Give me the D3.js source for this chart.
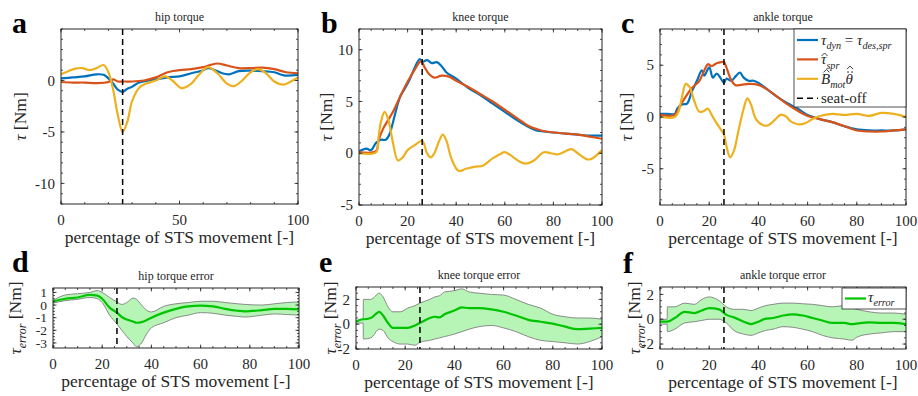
<!DOCTYPE html>
<html>
<head>
<meta charset="utf-8">
<script src="https://cdn.jsdelivr.net/npm/d3@7"></script>
<style>
  body { margin: 0; background: #fff; }
</style>
</head>
<body>
<script>
// ---- data: [percentage of STS movement, torque in Nm] ----
const seatOff = 26;

const hipDyn = [[0,0.2],[5,0.3],[10,0.4],[15,0.6],[18,0.55],[20,0.2],[22,-0.3],[24,-0.9],[26,-1.1],[28,-0.8],[30,-0.6],[33,-0.2],[37,0],[40,0.1],[45,0.3],[50,0.4],[55,0.7],[60,1.0],[62,1.2],[65,1.0],[68,0.7],[71,0.6],[75,0.9],[80,0.95],[85,0.9],[90,0.8],[94,0.5],[100,0.55]];
const hipSpr = [[0,-0.15],[5,-0.2],[10,-0.2],[15,-0.25],[20,-0.15],[22,0.1],[24,-0.1],[27,-0.1],[30,-0.1],[35,0],[40,0.3],[45,0.8],[50,1.0],[55,1.1],[60,1.3],[63,1.5],[66,1.65],[70,1.45],[75,1.2],[80,1.2],[85,1.25],[90,1.1],[95,0.8],[100,0.7]];
const hipMot = [[0,0.6],[3,0.9],[6,1.15],[9,1.2],[12,1.0],[15,1.2],[18,1.5],[20,0.8],[22,-0.9],[24,-3.4],[26,-5],[28,-4],[30,-2],[33,-0.7],[36,-0.3],[40,0],[44,0.4],[47,0],[51,-0.75],[55,-0.3],[58,0.5],[62,1.3],[66,0.7],[70,-0.3],[73,-0.55],[76,-0.1],[80,0.8],[83,1.1],[86,0.8],[90,-0.1],[94,-0.4],[97,-0.1],[100,0.3]];

const kneeDyn = [[0,0.2],[3,0.45],[5,0.3],[7,1.0],[9,1.3],[11,1.3],[12.5,1.8],[14,3],[16,4.8],[17,5.5],[19,6.3],[21,7.2],[23,8.3],[25,9.1],[26,8.8],[28,9.0],[30,8.7],[32,8.8],[34,8.4],[36,7.8],[40,7.2],[45,6.3],[50,5.6],[55,4.8],[60,4.0],[65,3.2],[70,2.5],[73,2.2],[76,2.1],[80,2.0],[85,1.9],[90,1.8],[95,1.7],[100,1.7]];
const kneeSpr = [[0,0.1],[7,0.2],[8,1.2],[10,2.4],[14,4],[17,5.5],[20,6.9],[23,8.1],[25.5,8.9],[27,8.3],[29,7.6],[31,7.3],[34,7.5],[37,7.4],[40,7.0],[45,6.4],[50,5.7],[55,5.0],[60,4.2],[65,3.4],[70,2.6],[75,2.2],[80,2.0],[85,1.9],[90,1.8],[95,1.6],[100,1.4]];
const kneeMot = [[0,0],[7,0.1],[8,1.5],[9,3.0],[10.5,4.0],[12,3.3],[14,1.0],[16,-0.7],[18,-0.4],[20,0.3],[23,0.8],[26,1.2],[28,0],[29.5,-0.4],[31,0],[33,1.2],[34.5,1.8],[36,1.2],[38,-0.5],[41,-1.7],[44,-1.5],[48,-1.3],[51,-1.2],[55,-0.5],[58,-0.1],[60,0.1],[63,-0.3],[66,-0.8],[68.5,-1.0],[72,-0.7],[76,0.1],[79,0],[82,-0.1],[85,0.2],[87.5,0.4],[90,0],[94,-0.6],[96,-0.5],[100,0.3]];

const ankleDyn = [[0,0.3],[3,0.3],[6,0.3],[7,0.8],[9,1.2],[11,1.3],[13,2.5],[15,3.5],[17,4.5],[18,4.0],[20,4.8],[21.5,3.8],[23,4.2],[24.5,3.8],[26,3.3],[27,3.7],[29,3.5],[31,4.0],[32.5,4.3],[34,3.8],[36,3.5],[38,3.5],[40,3.3],[44,2.6],[48,1.9],[52,1.3],[56,0.8],[60,0.2],[65,-0.2],[70,-0.5],[75,-0.9],[80,-1.2],[85,-1.3],[90,-1.3],[95,-1.3],[100,-1.2]];
const ankleSpr = [[0,0.2],[6,0.2],[8,1.0],[10,1.8],[13,2.8],[16,3.5],[18,4.5],[19.5,5.1],[21,4.9],[23,5.2],[25,5.3],[26,5.3],[27,4.8],[28.5,3.8],[30.5,3.1],[33,3.1],[36,3.2],[40,3.1],[44,2.6],[48,1.9],[52,1.2],[56,0.6],[60,0.1],[65,-0.2],[70,-0.5],[75,-0.9],[80,-1.3],[85,-1.4],[90,-1.4],[95,-1.3],[100,-1.2]];
const ankleMot = [[0,0],[6,0],[7.5,0.5],[9,2.0],[10.5,3.2],[12,2.9],[14,1.5],[16,0.5],[18,0.6],[19.5,0.8],[21,0.2],[23,-0.6],[25,-1.3],[26,-1.7],[27,-2.8],[28.5,-3.9],[30,-3.3],[32,-1.2],[34,0.8],[35.5,1.8],[37,1.2],[39,-0.2],[42,-0.8],[44,-0.8],[47,-0.2],[49,0.2],[51,0.1],[53,-0.4],[56,-0.7],[59,-0.6],[62,-0.2],[65,0.1],[70,0.3],[75,0.2],[80,0.3],[85,0.1],[90,0.4],[95,0.3],[100,0]];

// error rows: [x, lower, mean, upper]
const hipErr = [[0,0.15,0.3,0.35],[5,0.35,0.5,0.8],[10,0.45,0.6,0.9],[15,0.6,0.8,1.0],[18,0.5,0.75,1.15],[20,0.2,0.5,1.0],[23,-0.8,-0.2,0.6],[26,-1.5,-0.6,0.25],[28,-2.0,-0.95,0.05],[30,-2.5,-1.15,0.2],[32.5,-3.0,-1.3,0.55],[34,-3.3,-1.4,0.45],[36,-3.0,-1.35,0.0],[38,-2.3,-1.2,-0.4],[40,-1.8,-1.0,-0.55],[45,-1.4,-0.6,-0.1],[50,-1.0,-0.3,0.1],[55,-0.8,-0.1,0.2],[60,-0.6,-0.05,0.3],[65,-0.65,-0.1,0.3],[70,-0.8,-0.3,0.2],[75,-0.9,-0.45,0.1],[78,-0.95,-0.5,0.05],[85,-0.8,-0.4,0.0],[90,-0.7,-0.3,0.1],[95,-0.75,-0.3,0.2],[100,-0.8,-0.35,0.25]];
const kneeErr = [[0,0.1,0.2,0.3],[2.9,0.1,0.4,0.45],[3,-1.2,0.4,2.0],[6,-1.1,0.5,2.0],[9.5,-0.4,1.0,2.5],[11,-0.5,0.7,2.2],[13,-1.1,0.1,1.4],[15,-1.4,-0.3,1.0],[18,-1.6,-0.3,1.0],[21,-1.6,-0.3,1.3],[24,-1.7,-0.1,1.5],[26,-1.45,0.1,1.7],[30,-1.3,0.5,2.0],[32,-1.2,0.6,2.2],[34,-1.1,0.55,2.3],[36,-1.0,0.8,2.6],[40,-0.8,1.1,2.7],[43,-0.6,1.35,2.85],[46,-0.4,1.3,2.6],[50,-0.2,1.3,2.5],[55,-0.1,1.2,2.4],[60,-0.3,1.0,2.35],[65,-0.6,0.7,2.0],[70,-1.0,0.35,1.6],[75,-1.3,0.2,1.3],[80,-1.4,0.05,0.8],[85,-1.5,-0.2,0.6],[90,-1.6,-0.4,0.5],[95,-1.4,-0.35,0.5],[100,-1.0,-0.3,0.4]];
const ankleErr = [[0,-0.4,-0.2,0.0],[2.9,-0.4,-0.2,0.0],[3,-1.0,-0.2,1.0],[6,-0.8,0.1,1.0],[10,-0.3,0.6,1.3],[14,-0.2,0.5,1.2],[17,-0.1,0.7,1.6],[20,0.0,0.9,1.8],[24,0.0,0.8,1.5],[27,-0.3,0.35,1.0],[30,-0.9,0.15,0.8],[34,-1.2,-0.2,0.8],[37,-1.3,-0.4,0.7],[40,-1.1,-0.2,0.9],[43,-0.9,0.05,1.1],[46,-0.8,0.1,1.2],[50,-0.6,0.3,1.3],[54,-0.65,0.4,1.3],[58,-0.8,0.3,1.25],[62,-1.0,0.1,1.2],[66,-1.3,-0.1,1.1],[70,-1.5,-0.3,1.0],[75,-1.6,-0.3,1.1],[78,-1.7,-0.4,0.9],[80,-1.45,-0.35,0.8],[85,-1.2,-0.25,0.6],[90,-1.1,-0.3,0.5],[95,-1.0,-0.3,0.5],[100,-1.0,-0.4,0.4]];

// ---- styles ----
const C = { blue: '#0072BD', red: '#D95319', yel: '#EDB120', green: '#00c400', band: '#b6f5b6', edge: '#7f7f7f', axis: '#262626' };
const FONT = 'Liberation Serif';
const FS = 15;

const panels = [
  { letter: 'a', title: 'hip torque', box: [61, 298, 29, 204], ylim: [-12, 5], xt: [0, 50, 100], xm: 10, yt: [-10, -5, 0], ym: 1, lines: [hipDyn, hipSpr, hipMot], ylx: 26, lx: 12, ly: 33 },
  { letter: 'b', title: 'knee torque', box: [359, 602, 29, 205], ylim: [-5, 12], xt: [0, 20, 40, 60, 80, 100], xm: 5, yt: [-5, 0, 5, 10], ym: 1, lines: [kneeDyn, kneeSpr, kneeMot], ylx: 332, lx: 321, ly: 33 },
  { letter: 'c', title: 'ankle torque', box: [660, 906, 29, 205], ylim: [-8.5, 8.5], xt: [0, 20, 40, 60, 80, 100], xm: 5, yt: [-5, 0, 5], ym: 1, lines: [ankleDyn, ankleSpr, ankleMot], ylx: 632, lx: 621, ly: 33, legend: true },
  { letter: 'd', title: 'hip torque error', box: [53, 299, 288, 348], ylim: [-3.4, 1.35], xt: [0, 20, 40, 60, 80, 100], xm: 5, yt: [-3, -2, -1, 0, 1], ym: 0.25, err: hipErr, ylx: 21, lx: 12, ly: 272, yfs: 13.5 },
  { letter: 'e', title: 'knee torque error', box: [356, 602, 287, 349], ylim: [-2, 3], xt: [0, 20, 40, 60, 80, 100], xm: 5, yt: [-2, 0, 2], ym: 0.5, err: kneeErr, ylx: 336, lx: 319, ly: 272 },
  { letter: 'f', title: 'ankle torque error', box: [660, 906, 287, 349], ylim: [-2.4, 2.6], xt: [0, 20, 40, 60, 80, 100], xm: 5, yt: [-2, 0, 2], ym: 0.5, err: ankleErr, ylx: 640, lx: 623, ly: 273, legend: true }
];

const svg = d3.select('body').append('svg')
  .attr('width', 918).attr('height', 396)
  .style('font-family', FONT);

// append text made of parts: {t, i (italic), sub (subscript)}
function rich(textSel, parts, size) {
  const shift = size * 0.28;
  let down = false;
  parts.forEach(p => {
    const ts = textSel.append('tspan').text(p.t);
    if (p.i) ts.attr('font-style', 'italic');
    if (p.sub) {
      ts.attr('font-size', size * 0.68);
      if (!down) { ts.attr('dy', shift); down = true; }
    } else if (down) {
      ts.attr('dy', -shift); down = false;
    }
  });
  return textSel;
}

// draw a hat (and optional double dot) above character idx of a text element
function accent(g, textSel, idx, baseY, topEm, size, dots) {
  const ext = textSel.node().getExtentOfChar(idx);
  const cx = ext.x + ext.width / 2 + size * 0.06;
  let top = baseY - topEm * size - 1.5;
  if (dots) {
    [-2, 2].forEach(dx => g.append('circle').attr('cx', cx + dx).attr('cy', top).attr('r', 0.8).attr('fill', C.axis));
    top -= 3;
  }
  g.append('path').attr('d', `M${cx - 3},${top} L${cx},${top - 3} L${cx + 3},${top}`)
    .attr('fill', 'none').attr('stroke', C.axis).attr('stroke-width', 0.9);
}

function range(lo, hi, step) {
  const out = [];
  const n0 = Math.ceil(lo / step - 1e-9), n1 = Math.floor(hi / step + 1e-9);
  for (let n = n0; n <= n1; n++) out.push(+(n * step).toFixed(6));
  return out;
}

panels.forEach((p, pi) => {
  const [x0, x1, y0, y1] = p.box;
  const x = d3.scaleLinear().domain([0, 100]).range([x0, x1]);
  const y = d3.scaleLinear().domain(p.ylim).range([y1, y0]);
  const g = svg.append('g').attr('fill', C.axis);

  const clipId = 'clip' + pi;
  svg.append('clipPath').attr('id', clipId)
    .append('rect').attr('x', x0).attr('y', y0).attr('width', x1 - x0).attr('height', y1 - y0);
  const plot = g.append('g').attr('clip-path', `url(#${clipId})`);

  if (p.lines) {
    const line = d3.line().x(d => x(d[0])).y(d => y(d[1])).curve(d3.curveCatmullRom.alpha(0.5));
    [C.blue, C.red, C.yel].forEach((col, k) => {
      plot.append('path').datum(p.lines[k]).attr('d', line)
        .attr('fill', 'none').attr('stroke', col).attr('stroke-width', 2.2)
        .attr('stroke-linejoin', 'round');
    });
  } else {
    const area = d3.area().x(d => x(d[0])).y0(d => y(d[1])).y1(d => y(d[3])).curve(d3.curveMonotoneX);
    plot.append('path').datum(p.err).attr('d', area).attr('fill', C.band);
    [1, 3].forEach(k => {
      plot.append('path').datum(p.err)
        .attr('d', d3.line().x(d => x(d[0])).y(d => y(d[k])).curve(d3.curveMonotoneX))
        .attr('fill', 'none').attr('stroke', C.edge).attr('stroke-width', 0.9);
    });
    plot.append('path').datum(p.err)
      .attr('d', d3.line().x(d => x(d[0])).y(d => y(d[2])).curve(d3.curveMonotoneX))
      .attr('fill', 'none').attr('stroke', C.green).attr('stroke-width', 2.2);
  }

  // seat-off line
  plot.append('line').attr('x1', x(seatOff)).attr('x2', x(seatOff)).attr('y1', y0).attr('y2', y1)
    .attr('stroke', '#000').attr('stroke-width', 1.5).attr('stroke-dasharray', '6,4');

  // ticks (inward on all four sides)
  const tk = g.append('g').attr('stroke', C.axis).attr('stroke-width', 0.8);
  const xMinor = range(0, 100, p.xm), yMinor = range(p.ylim[0], p.ylim[1], p.ym);
  const tick = (xs, ys, len) => {
    xs.forEach(v => {
      tk.append('line').attr('x1', x(v)).attr('x2', x(v)).attr('y1', y1).attr('y2', y1 - len);
      tk.append('line').attr('x1', x(v)).attr('x2', x(v)).attr('y1', y0).attr('y2', y0 + len);
    });
    ys.forEach(v => {
      tk.append('line').attr('y1', y(v)).attr('y2', y(v)).attr('x1', x0).attr('x2', x0 + len);
      tk.append('line').attr('y1', y(v)).attr('y2', y(v)).attr('x1', x1).attr('x2', x1 - len);
    });
  };
  tick(xMinor, yMinor, 2);
  tick(p.xt, p.yt, 3.5);
  g.append('rect').attr('x', x0).attr('y', y0).attr('width', x1 - x0).attr('height', y1 - y0)
    .attr('fill', 'none').attr('stroke', C.axis).attr('stroke-width', 1);

  // tick labels
  p.xt.forEach(v => g.append('text').attr('x', x(v)).attr('y', y1 + 21)
    .attr('text-anchor', 'middle').attr('font-size', FS).text(v));
  p.yt.forEach(v => g.append('text').attr('x', x0 - 6).attr('y', y(v)).attr('dy', '0.35em')
    .attr('text-anchor', 'end').attr('font-size', p.yfs || FS).text(v));

  // axis labels and title
  g.append('text').attr('x', (x0 + x1) / 2).attr('y', y1 + 39).attr('text-anchor', 'middle')
    .attr('font-size', 17.5).text('percentage of STS movement [-]');
  const yl = g.append('text').attr('transform', `translate(${p.ylx},${(y0 + y1) / 2}) rotate(-90)`)
    .attr('text-anchor', 'middle').attr('font-size', 17.5);
  if (p.lines) rich(yl, [{ t: 'τ', i: true }, { t: ' [Nm]' }], 17.5);
  else rich(yl, [{ t: 'τ', i: true }, { t: 'error', i: true, sub: true }, { t: ' [Nm]' }], 17.5);
  g.append('text').attr('x', (x0 + x1) / 2).attr('y', y0 - 8).attr('text-anchor', 'middle')
    .attr('font-size', 12).text(p.title);
  g.append('text').attr('x', p.lx).attr('y', p.ly).attr('font-size', 30).attr('font-weight', 'bold')
    .attr('fill', '#000').text(p.letter);

  // legends
  if (p.legend && p.lines) {
    const lg = g.append('g');
    lg.append('rect').attr('x', 794).attr('y', y0).attr('width', x1 - 794).attr('height', 78)
      .attr('fill', '#fff').attr('stroke', C.axis).attr('stroke-width', 0.8);
    const rows = [
      { col: C.blue, parts: [{ t: 'τ', i: true }, { t: 'dyn', i: true, sub: true }, { t: ' = ' }, { t: 'τ', i: true }, { t: 'des,spr', i: true, sub: true }] },
      { col: C.red, parts: [{ t: 'τ', i: true }, { t: 'spr', i: true, sub: true }], hats: [[0, 0.46, false]] },
      { col: C.yel, parts: [{ t: 'B', i: true }, { t: 'mot', i: true, sub: true }, { t: 'θ', i: true }], hats: [[0, 0.66, false], [4, 0.68, true]] },
      { col: '#000', dash: '6,4', parts: [{ t: 'seat-off' }] }
    ];
    rows.forEach((r, k) => {
      const ry = 40 + k * 19.4;
      lg.append('line').attr('x1', 797).attr('x2', 818).attr('y1', ry).attr('y2', ry)
        .attr('stroke', r.col).attr('stroke-width', r.dash ? 1.5 : 2.2).attr('stroke-dasharray', r.dash || null);
      const t = rich(lg.append('text').attr('x', 821).attr('y', ry + 5).attr('font-size', FS), r.parts, FS);
      (r.hats || []).forEach(h => accent(lg, t, h[0], ry + 5, h[1], FS, h[2]));
    });
  }
  if (p.legend && p.err) {
    const lg = g.append('g');
    lg.append('rect').attr('x', 842).attr('y', 288).attr('width', x1 - 842).attr('height', 21)
      .attr('fill', '#fff').attr('stroke', C.axis).attr('stroke-width', 0.8);
    lg.append('line').attr('x1', 845).attr('x2', 866).attr('y1', 298.5).attr('y2', 298.5)
      .attr('stroke', C.green).attr('stroke-width', 2.2);
    rich(lg.append('text').attr('x', 868).attr('y', 302).attr('font-size', FS),
      [{ t: 'τ', i: true }, { t: 'error', i: true, sub: true }], FS);
  }
});
</script>
</body>
</html>
